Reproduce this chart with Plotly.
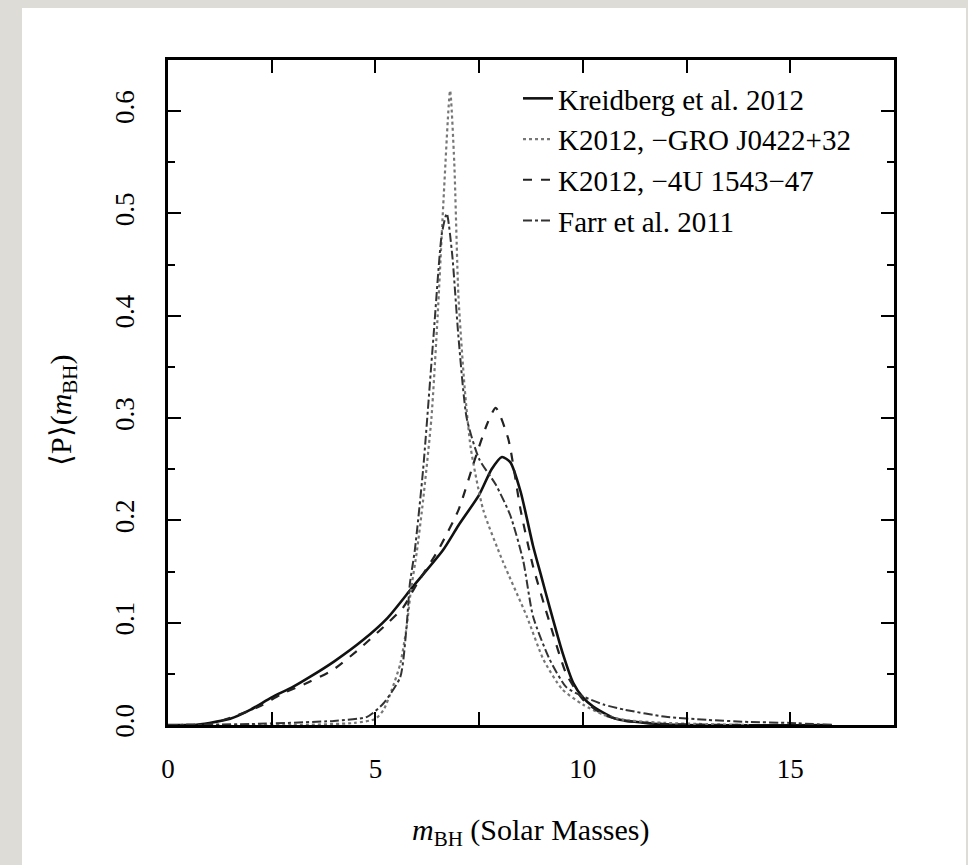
import plotly.graph_objects as go

# ---- data ----
kreidberg_x = [0.0, 0.6, 1.0, 1.5, 1.98, 2.5, 3.0, 3.42, 4.0, 4.7, 5.3, 5.9, 6.63, 7.0, 7.5, 7.8, 8.05, 8.25, 8.5, 8.8, 9.0, 9.2, 9.5, 9.77, 10.0, 10.25, 10.8, 11.5, 12.5, 16.0]
kreidberg_y = [0.0, 0.0, 0.002, 0.006, 0.0147, 0.027, 0.037, 0.047, 0.062, 0.083, 0.105, 0.135, 0.171, 0.195, 0.225, 0.25, 0.262, 0.257, 0.228, 0.175, 0.145, 0.115, 0.072, 0.041, 0.027, 0.018, 0.006, 0.002, 0.0, 0.0]

gro_x = [0.0, 3.0, 4.5, 5.0, 5.2, 5.4, 5.6, 5.75, 5.85, 6.0, 6.15, 6.35, 6.5, 6.65, 6.8, 6.9, 7.0, 7.15, 7.3, 7.6, 8.07, 8.65, 9.05, 9.5, 10.0, 10.5, 11.0, 12.0, 14.0]
gro_y = [0.0, 0.0, 0.002, 0.006, 0.015, 0.035, 0.06, 0.095, 0.13, 0.17, 0.22, 0.3, 0.4, 0.52, 0.62, 0.55, 0.42, 0.33, 0.27, 0.21, 0.16, 0.106, 0.064, 0.035, 0.02, 0.01, 0.005, 0.002, 0.0]

u4_x = [0.0, 1.0, 1.57, 2.2, 2.77, 3.4, 3.98, 4.6, 5.2, 5.67, 6.0, 6.5, 7.0, 7.4, 7.7, 7.9, 8.2, 8.5, 8.8, 9.2, 9.6, 10.0, 10.5, 11.0, 12.0, 14.0]
u4_y = [0.0, 0.001, 0.008, 0.018, 0.031, 0.042, 0.054, 0.074, 0.096, 0.115, 0.138, 0.17, 0.21, 0.26, 0.295, 0.31, 0.28, 0.21, 0.155, 0.1, 0.05, 0.025, 0.01, 0.004, 0.001, 0.0]

farr_x = [0.0, 2.0, 4.0, 4.8, 5.19, 5.6, 5.75, 5.83, 5.95, 6.15, 6.4, 6.6, 6.72, 6.85, 7.0, 7.2, 7.5, 7.9, 8.25, 8.56, 8.8, 9.2, 9.6, 10.0, 10.5, 11.0, 12.0, 13.0, 14.0, 15.0, 16.0]
farr_y = [0.0, 0.001, 0.004, 0.008, 0.021, 0.047, 0.096, 0.138, 0.171, 0.25, 0.38, 0.48, 0.5, 0.46, 0.38, 0.3, 0.26, 0.235, 0.205, 0.161, 0.106, 0.064, 0.037, 0.028, 0.02, 0.015, 0.008, 0.005, 0.003, 0.002, 0.0]

x_tickvals = [0, 5, 10, 15]
x_ticktext = ["0", "5", "10", "15"]
y_tickvals = [0.0, 0.1, 0.2, 0.3, 0.4, 0.5, 0.6]
y_ticktext = ["0.0", "0.1", "0.2", "0.3", "0.4", "0.5", "0.6"]

names = ["Kreidberg et al. 2012", "K2012, \u2212GRO J0422+32", "K2012, \u22124U 1543\u221247", "Farr et al. 2011"]

FONT = "Liberation Serif, Times New Roman, serif"

fig = go.Figure()
fig.add_trace(go.Scatter(x=kreidberg_x, y=kreidberg_y, mode="lines", name=names[0],
                         line=dict(color="#111111", width=2.6, dash="solid", shape="spline", smoothing=0.6)))
fig.add_trace(go.Scatter(x=gro_x, y=gro_y, mode="lines", name=names[1],
                         line=dict(color="#777777", width=2.2, dash="dot", shape="spline", smoothing=0.6)))
fig.add_trace(go.Scatter(x=u4_x, y=u4_y, mode="lines", name=names[2],
                         line=dict(color="#222222", width=2.2, dash="dash", shape="spline", smoothing=0.6)))
fig.add_trace(go.Scatter(x=farr_x, y=farr_y, mode="lines", name=names[3],
                         line=dict(color="#333333", width=2.0, dash="dashdot", shape="spline", smoothing=0.6)))

L, R, T, B = 168, 74, 60, 140
W, H = 968, 865
pw, ph = W - L - R, H - T - B

def px(xp):
    return (xp - L) / pw

def py(yp):
    return (H - B - yp) / ph

fig.add_shape(type="rect", xref="paper", yref="paper",
              x0=px(22), x1=px(966), y0=py(880), y1=py(8),
              fillcolor="white", line=dict(width=0), layer="below")

axis_common = dict(
    showgrid=False, zeroline=False, showline=True, linecolor="black", linewidth=3,
    mirror="ticks", ticks="inside", ticklen=13, tickwidth=2, tickcolor="black",
    tickfont=dict(family=FONT, size=27, color="black"),
)

fig.update_xaxes(range=[0, 17.5], tickmode="array", tickvals=x_tickvals, ticktext=x_ticktext,
                 ticklabelstandoff=18,
                 minor=dict(dtick=2.5, tick0=0, ticks="inside", ticklen=13, tickwidth=2, tickcolor="black"),
                 **axis_common)
fig.update_yaxes(range=[0, 0.65], tickmode="array", tickvals=y_tickvals, ticktext=y_ticktext,
                 tickangle=-90, ticklabelstandoff=20,
                 minor=dict(dtick=0.05, tick0=0, ticks="inside", ticklen=7, tickwidth=2, tickcolor="black"),
                 **axis_common)

fig.add_annotation(xref="paper", yref="paper", x=0.5, y=py(832), xanchor="center", yanchor="middle",
                   showarrow=False,
                   text="<i>m</i><sub>BH</sub> (Solar Masses)",
                   font=dict(family=FONT, size=30, color="black"))
fig.add_annotation(xref="paper", yref="paper", x=px(63), y=py(410), xanchor="center", yanchor="middle",
                   showarrow=False,
                   text="\u27e8P\u27e9(<i>m</i><sub>BH</sub>)", textangle=-90,
                   font=dict(family=FONT, size=30, color="black"))

fig.update_layout(
    width=W, height=H,
    margin=dict(l=L, r=R, t=T, b=B),
    paper_bgcolor="rgb(222,220,214)",
    plot_bgcolor="white",
    showlegend=True,
    legend=dict(x=px(518), y=py(73), xanchor="left", yanchor="top",
                bgcolor="rgba(0,0,0,0)", borderwidth=0,
                font=dict(family=FONT, size=29, color="black"),
                itemwidth=30, tracegroupgap=0),
)

fig.write_html("out.html")
